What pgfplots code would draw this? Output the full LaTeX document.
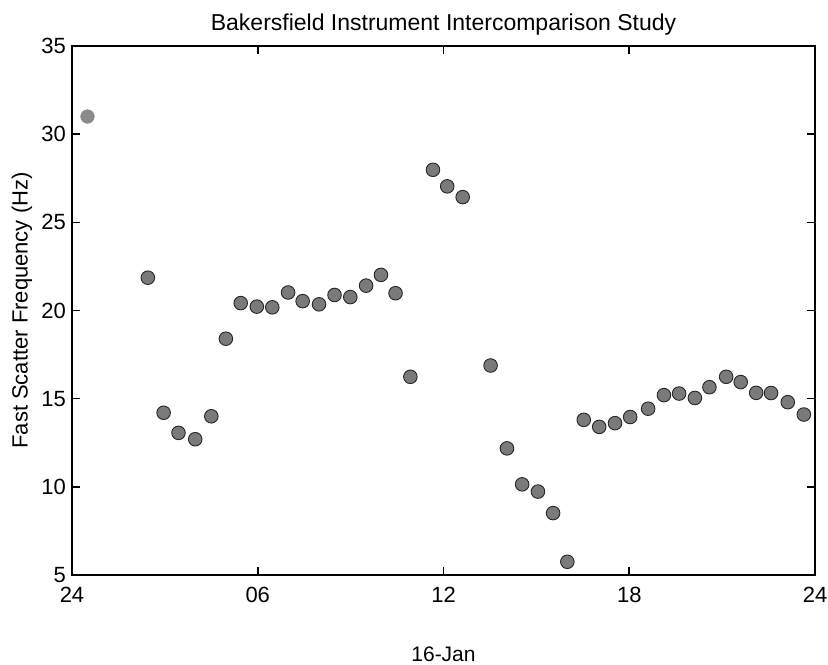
\documentclass[border=0pt]{standalone}
\usepackage{pgfplots}
\pgfplotsset{compat=1.18}
\usepackage{fontspec}
\setmainfont{Liberation Sans}
\definecolor{markgray}{RGB}{122,122,125}
\definecolor{firstgray}{RGB}{138,138,140}
\pgfplotstableread{
x y
2.45 21.86
2.96 14.20
3.44 13.06
3.98 12.70
4.50 14.00
4.97 18.40
5.45 20.42
5.97 20.22
6.47 20.18
6.98 21.02
7.45 20.53
7.98 20.35
8.48 20.88
8.99 20.76
9.50 21.41
9.98 22.02
10.45 20.98
10.93 16.24
11.66 27.98
12.12 27.04
12.62 26.43
13.52 16.88
14.05 12.18
14.54 10.14
15.05 9.73
15.54 8.51
16.00 5.75
16.53 13.80
17.03 13.40
17.54 13.61
18.03 13.96
18.61 14.43
19.12 15.20
19.61 15.29
20.12 15.04
20.59 15.65
21.13 16.24
21.60 15.94
22.10 15.33
22.58 15.32
23.12 14.80
23.64 14.10
}\maindata
\begin{document}
\begin{tikzpicture}
\begin{axis}[
  scale only axis, width=371.5pt, height=264.5pt,
  xmin=0, xmax=24, ymin=5, ymax=35,
  xtick={0,6,12,18,24}, xticklabels={24,06,12,18,24},
  ytick={5,10,15,20,25,30,35},
  tick align=inside, major tick length=4pt,
  tick pos=both,
  axis line style={line width=0.85pt},
  every tick/.style={line width=0.8pt, black},
  tick label style={font=\fontsize{11}{13}\selectfont},
  /pgf/number format/assume math mode=true,
  xticklabel style={yshift=-2.3pt},
  yticklabel style={xshift=0.5pt},
  every axis title shift=0pt,
  title={Bakersfield Instrument Intercomparison Study},
  title style={at={(axis description cs:0.5,1.0397)}, anchor=center, font=\fontsize{11.5}{13}\selectfont},
  xlabel={16-Jan},
  xlabel style={at={(axis description cs:0.5,-0.1493)}, anchor=center, font=\fontsize{10.5}{12}\selectfont},
  ylabel={Fast Scatter Frequency (Hz)},
  ylabel style={at={(axis description cs:-0.0673,0.5)}, anchor=center, font=\fontsize{11}{13}\selectfont},
]
\addplot[only marks, mark=*, mark size=3.4pt, mark options={fill=firstgray, draw=firstgray, line width=0.3pt}]
  coordinates {(0.5,31.0)};
\addplot[only marks, mark=*, mark size=3.4pt, mark options={fill=markgray, draw=black!85, line width=0.45pt}]
  table[x=x, y=y] {\maindata};
\end{axis}
\pgfresetboundingbox
\path ([xshift=-36pt,yshift=-45pt]current axis.south west) rectangle ([xshift=6.5pt,yshift=23pt]current axis.north east);
\end{tikzpicture}
\end{document}
